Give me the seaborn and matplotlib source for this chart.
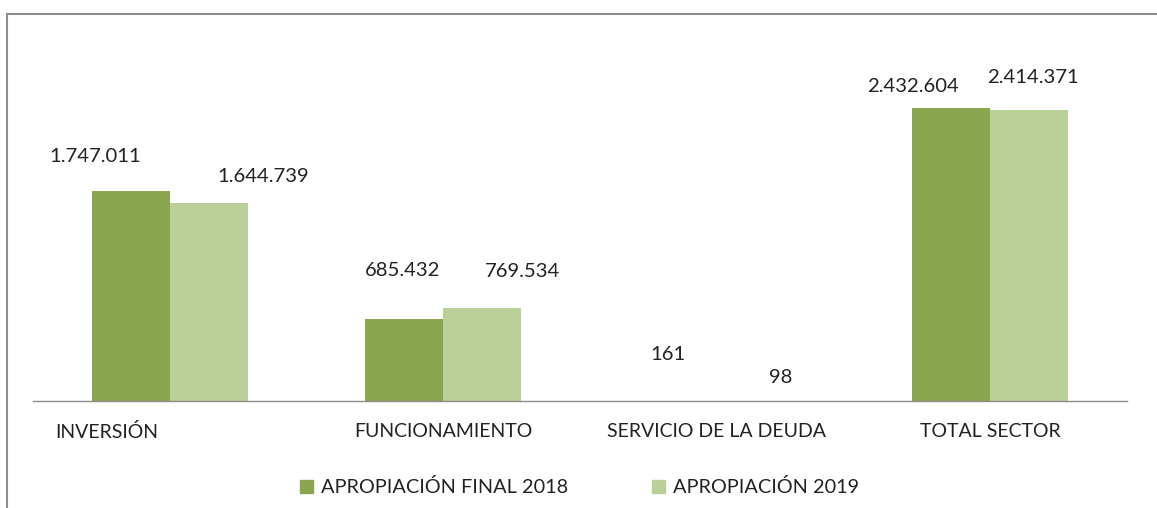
import pandas as pd
import numpy as np
import matplotlib.pyplot as plt
import matplotlib.transforms as mtransforms
from matplotlib.patches import Rectangle
import seaborn as sns

categorias = ['INVERSIÓN', 'FUNCIONAMIENTO', 'SERVICIO DE LA DEUDA', 'TOTAL SECTOR']
series = ['APROPIACIÓN FINAL 2018', 'APROPIACIÓN 2019']
valores_2018 = [1747011, 685432, 161, 2432604]
valores_2019 = [1644739, 769534, 98, 2414371]
colores = ['#8AA64F', '#BBCF98']

df = pd.DataFrame({
    'categoria': categorias * 2,
    'serie': [series[0]] * 4 + [series[1]] * 4,
    'valor': valores_2018 + valores_2019,
})

sns.set_style('white')
plt.rcParams['font.family'] = ['Lato', 'DejaVu Sans']
fs = 14.6

fig = plt.figure(figsize=(11.57, 5.08), dpi=100)
ax = fig.add_axes([33 / 1157, 1 - 401 / 508, 1094 / 1157, 371 / 508])

sns.barplot(data=df, x='categoria', y='valor', hue='serie', palette=colores,
            width=0.57, saturation=1, linewidth=0, ax=ax, legend=True)

ax.set_xlim(-0.5, 3.5)
ax.set_ylim(0, 3083000)
for s in ['top', 'right', 'left']:
    ax.spines[s].set_visible(False)
ax.spines['bottom'].set_color('#8C8C8C')
ax.spines['bottom'].set_linewidth(1.0)
ax.set_yticks([])
ax.set_xlabel('')
ax.set_ylabel('')
ax.tick_params(axis='x', length=0, pad=16, labelsize=14, labelcolor='#222222')

# primer rótulo corrido a la izquierda como en el original
lbl = ax.get_xticklabels()[0]
lbl.set_transform(lbl.get_transform() + mtransforms.ScaledTranslation(-63 / 100, 0, fig.dpi_scale_trans))

# etiquetas de datos (desplazamientos en px: dx, dy)
desp = {
    0: [(-36, 34), (-2, 48), (-10, 46), (-38, 22)],
    1: [(54, 27), (40, 37), (25, 23), (4, 33)],
}
for i, cont in enumerate(ax.containers):
    for j, bar in enumerate(cont):
        v = bar.get_height()
        dx, dy = desp[i][j]
        ax.annotate(f"{int(v):,}".replace(',', '.'),
                    xy=(bar.get_x() + bar.get_width() / 2, v),
                    xytext=(dx * 0.72, dy * 0.72), textcoords='offset points',
                    ha='center', va='center', fontsize=fs, color='#222222')

ax.legend_.remove()
handles = [Rectangle((0, 0), 1, 1, color=c) for c in colores]
fig.legend(handles, series, loc='center', bbox_to_anchor=(0.501, 0.041), ncol=2,
           frameon=False, fontsize=14.3, handlelength=0.65, handleheight=0.65,
           handletextpad=0.4, columnspacing=4.2, labelcolor='#222222')

fig.patches.append(Rectangle((7 / 1157, -0.1), 1.2, 1 - 14 / 508 + 0.1,
                             transform=fig.transFigure, fill=False,
                             edgecolor='#8C8C8C', linewidth=1.5))

fig.savefig('out.png', dpi=100)
